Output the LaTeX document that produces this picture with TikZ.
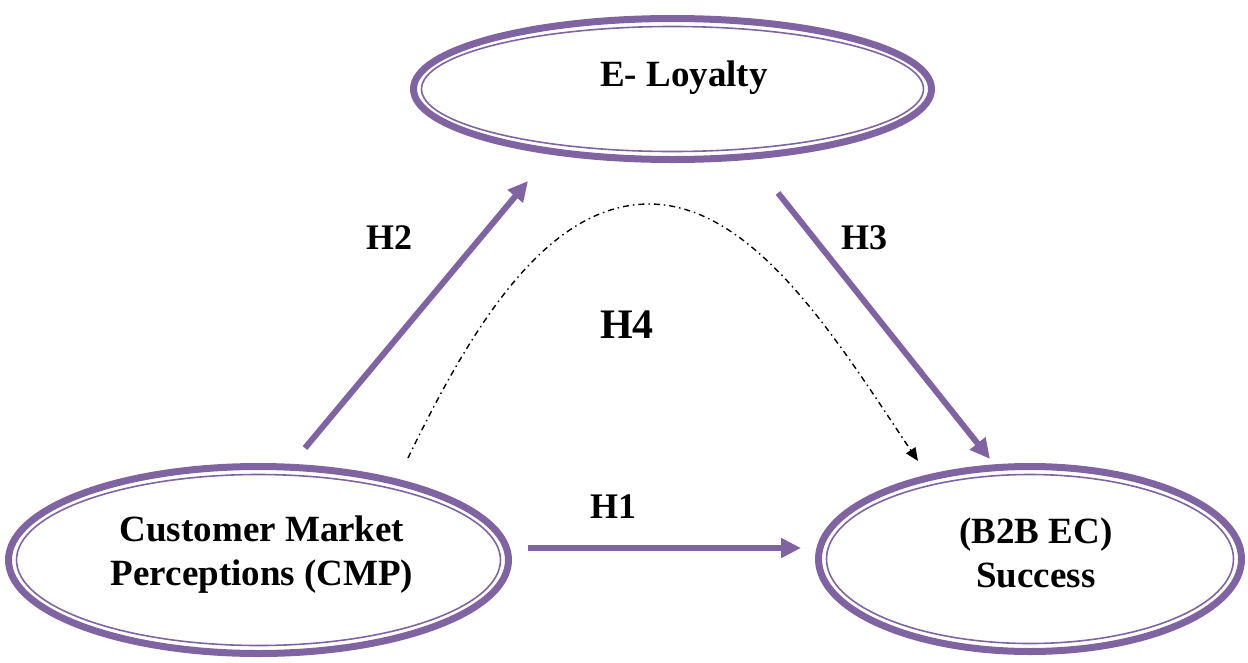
\documentclass[tikz,border=0pt]{standalone}
\usepackage{fontspec}
\setmainfont{Liberation Serif}
\usetikzlibrary{shapes.geometric,arrows.meta}
\definecolor{lav}{HTML}{8064A2}
\begin{document}
\begin{tikzpicture}[x=1pt,y=-1pt,
  ring/.style={ellipse,draw=lav,line width=7pt,inner sep=0pt},
  innerring/.style={draw=lav,line width=1.6pt},
  lbl/.style={font=\fontsize{37}{44}\selectfont\bfseries,align=center,inner sep=0pt},
  hyp/.style={font=\fontsize{36}{40}\selectfont\bfseries,inner sep=0pt},
  link/.style={draw=lav,line width=6pt,-{Triangle[length=20pt,width=19pt]}},
  mediate/.style={draw=black,line width=1.4pt,dash pattern=on 6pt off 4pt on 1.5pt off 4pt,
    -{Triangle[length=13pt,width=11pt]}}]
\useasboundingbox (0,0) rectangle (1248,662);

% constructs
\node[ring,minimum width=518pt,minimum height=141pt] (loy) at (672.5,89) {};
\node[ring,minimum width=500pt,minimum height=187pt] (cmp) at (258.5,560) {};
\node[ring,minimum width=423pt,minimum height=185pt] (succ) at (1030,559) {};
\draw[innerring] (loy.center) ellipse [x radius=251pt,y radius=62.5pt];
\draw[innerring] (cmp.center) ellipse [x radius=242pt,y radius=85.5pt];
\draw[innerring] (succ.center) ellipse [x radius=203.5pt,y radius=84.5pt];

\node[lbl] (tloy) at (684,78) {E- Loyalty};
\node[lbl] (tcmp) at (262,555) {Customer Market\\Perceptions (CMP)};
\node[lbl] (tsucc) at (1036,553) {(B2B EC)\\Success};

% path end points
\coordinate (h2a) at (305,448);
\coordinate (h2b) at (528,181);
\coordinate (h3a) at (778,193);
\coordinate (h3b) at (990,459);
\coordinate (h1a) at (528,548);
\coordinate (h1b) at (801,548);
\coordinate (h4a) at (408,458);
\coordinate (h4m) at (648,204);
\coordinate (h4b) at (918,461);

\draw[link] (h2a) -- (h2b);
\draw[link] (h3a) -- (h3b);
\draw[link] (h1a) -- (h1b);
\draw[mediate] (h4a) .. controls (470,330) and (545,205) .. (h4m)
  .. controls (755,203) and (840,345) .. (h4b);

% hypothesis labels
\node[hyp] (l2) at (389,238) {H2};
\node[hyp] (l3) at (864,238) {H3};
\node[hyp] (l1) at (613,507) {H1};
\node[hyp,font=\fontsize{42}{46}\selectfont\bfseries] (l4) at (627,325) {H4};
\end{tikzpicture}
\end{document}
